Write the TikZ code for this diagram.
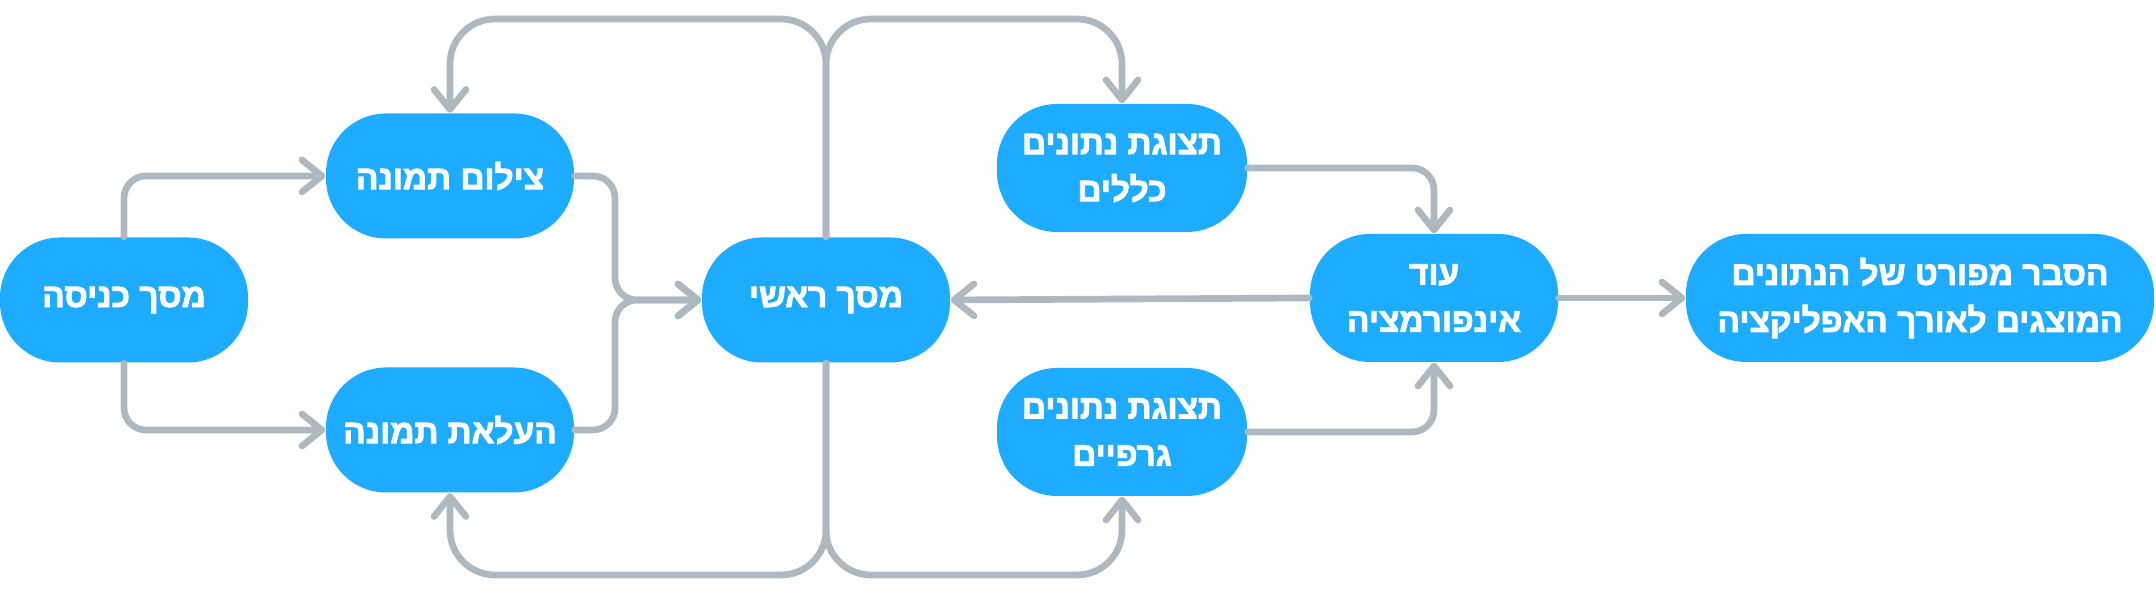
\documentclass[tikz,border=0pt]{standalone}
\usepackage{fontspec}
\usepackage{xcolor}
\usetikzlibrary{arrows.meta, positioning}
\newfontfamily\hebfont[Script=Hebrew, FakeBold=2.6]{Liberation Sans Bold}
\TeXXeTstate=1
\newcommand{\hebline}[1]{\beginR #1\endR}
\definecolor{nodeblue}{RGB}{29,172,255}
\definecolor{linkgray}{RGB}{173,184,192}

\begin{document}
\begin{tikzpicture}[
	scr/.style={fill=nodeblue, rounded corners=0.6cm, minimum height=1.25cm, minimum width=2.48cm, inner xsep=2pt, align=center, text=white, font=\hebfont\fontsize{9.5}{13.4}\selectfont},
	link/.style={draw=linkgray, line width=1.9pt, rounded corners=0.22cm, line cap=round, ->},
	loop/.style={link, rounded corners=0.45cm},
	>={Straight Barb[length=2mm, width=3.2mm, round]}
	]
	\useasboundingbox (0,0) rectangle (21.56,5.96);
	\node[scr] (entry) at (1.24,2.96) {\hebline{מסך כניסה}};
	\node[scr] (photo) at (4.50,4.20) {\hebline{צילום תמונה}};
	\node[scr] (upload) at (4.50,1.66) {\hebline{העלאת תמונה}};
	\node[scr] (main) at (8.26,2.96) {\hebline{מסך ראשי}};
	\node[scr, minimum height=1.28cm, minimum width=2.5cm] (general) at (11.22,4.28) {\hebline{תצוגת נתונים}\\\hebline{כללים}};
	\node[scr, minimum height=1.28cm, minimum width=2.5cm] (graphs) at (11.22,1.64) {\hebline{תצוגת נתונים}\\\hebline{גרפיים}};
	\node[scr, minimum height=1.28cm] (info) at (14.34,2.98) {\hebline{עוד}\\\hebline{אינפורמציה}};
	\node[scr, minimum height=1.28cm, minimum width=4.68cm] (expl) at (19.20,2.98) {\hebline{הסבר מפורט של הנתונים}\\\hebline{המוצגים לאורך האפליקציה}};
	\coordinate (merge) at (6.15,2.96);
	\coordinate (top) at (8.26,5.77);
	\coordinate (bottom) at (8.26,0.21);
	\draw[link] (entry.north) |- (photo.west);
	\draw[link] (entry.south) |- (upload.west);
	\draw[link] (photo.east) -| (merge) -- (main.west);
	\draw[link] (upload.east) -| (merge) -- (main.west);
	\draw[loop] (main.north) |- (top -| photo.north) -- (photo.north);
	\draw[loop] (main.north) |- (top -| general.north) -- (general.north);
	\draw[loop] (main.south) |- (bottom -| upload.south) -- (upload.south);
	\draw[loop] (main.south) |- (bottom -| graphs.south) -- (graphs.south);
	\draw[link] (general.east) -| (info.north);
	\draw[link] (graphs.east) -| (info.south);
	\draw[link] (info.west) -- (main.east);
	\draw[link] (info.east) -- (expl.west);
\end{tikzpicture}
\end{document}
